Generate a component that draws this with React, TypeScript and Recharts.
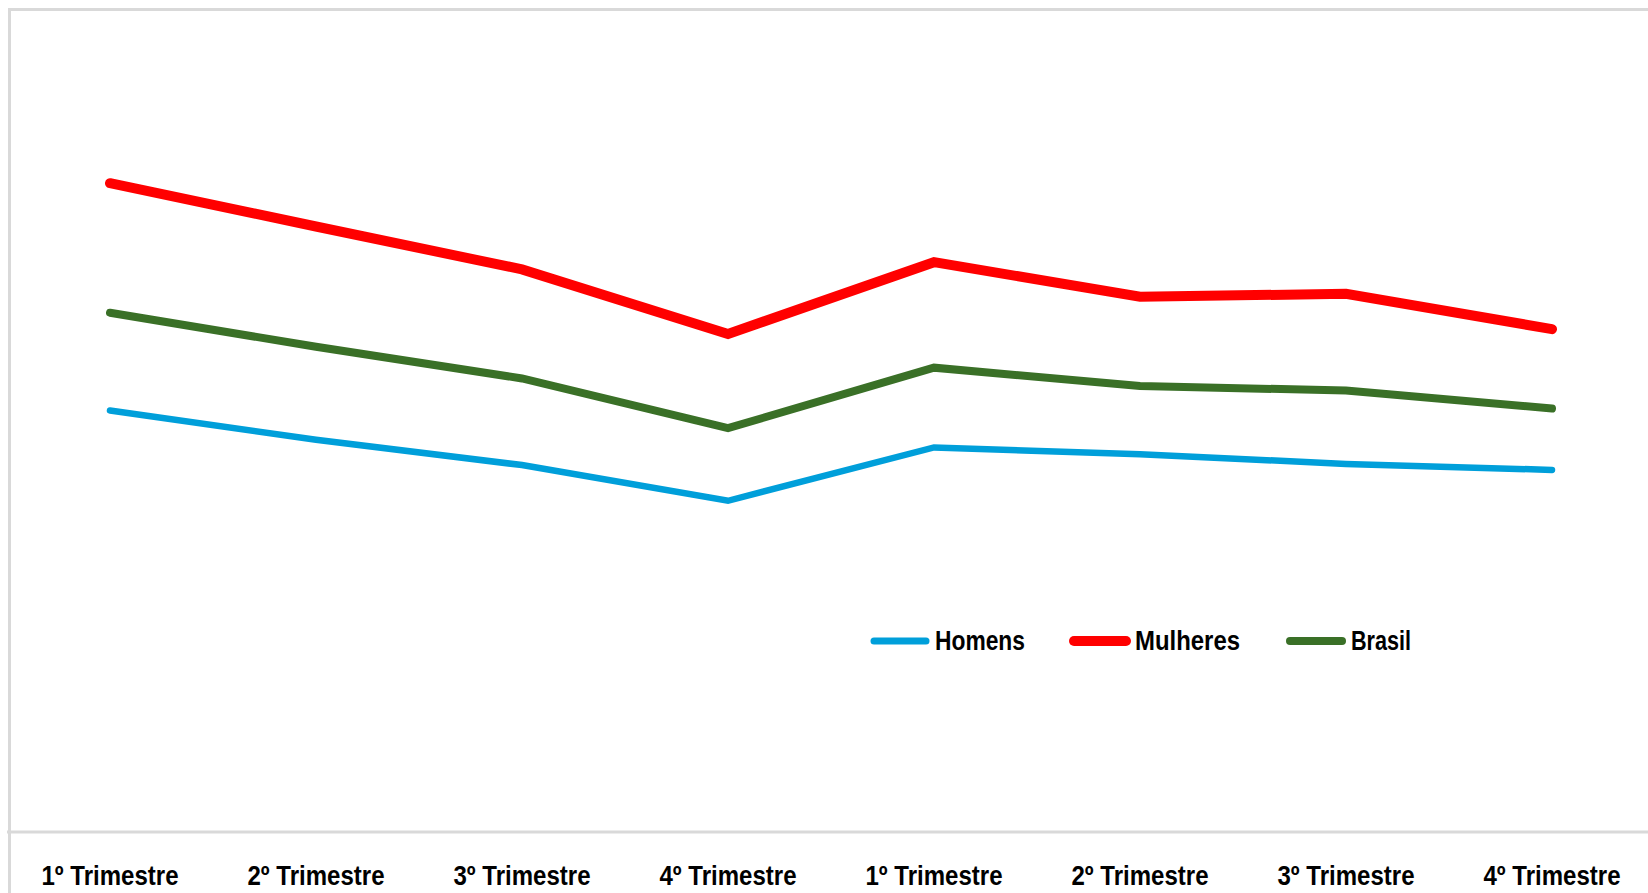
import { LineChart, Line, XAxis, YAxis } from 'recharts';

const quarters = [
  '1º Trimestre',
  '2º Trimestre',
  '3º Trimestre',
  '4º Trimestre',
  '1º Trimestre',
  '2º Trimestre',
  '3º Trimestre',
  '4º Trimestre',
];

const homens = [10.51, 9.78, 9.15, 8.26, 9.59, 9.42, 9.18, 9.03];
const mulheres = [16.18, 15.1, 14.03, 12.42, 14.21, 13.35, 13.42, 12.54];
const brasil = [12.95, 12.1, 11.31, 10.07, 11.58, 11.12, 11.01, 10.56];

const seriesNames = ['Homens', 'Mulheres', 'Brasil'];
const seriesColors = ['#009FDA', '#FF0000', '#3A7027'];

const data = quarters.map((q, i) => ({
  idx: i,
  quarter: q,
  homens: homens[i],
  mulheres: mulheres[i],
  brasil: brasil[i],
}));

const FONT = "'Liberation Sans', Arial, sans-serif";

function QuarterTick({ x, y, payload }: any) {
  return (
    <text
      x={x}
      y={y + 45}
      textAnchor="middle"
      fontFamily={FONT}
      fontWeight="bold"
      fontSize={27}
      fill="#000"
      textLength={137}
      lengthAdjust="spacingAndGlyphs"
    >
      {quarters[payload.value]}
    </text>
  );
}

// legend drawn by hand: thick line swatch + condensed bold label
function ChartLegend() {
  const items = [
    { name: seriesNames[0], color: seriesColors[0], w: 7, textW: 90, x: 0 },
    { name: seriesNames[1], color: seriesColors[1], w: 10, textW: 105, x: 200 },
    { name: seriesNames[2], color: seriesColors[2], w: 8, textW: 60, x: 416 },
  ];
  return (
    <svg width={560} height={46} style={{ position: 'absolute', left: 869, top: 618 }}>
      {items.map((it) => (
        <g key={it.name}>
          <line
            x1={it.x + 5}
            x2={it.x + 57}
            y1={23}
            y2={23}
            stroke={it.color}
            strokeWidth={it.w}
            strokeLinecap="round"
          />
          <text
            x={it.x + 66}
            y={32}
            fontFamily={FONT}
            fontWeight="bold"
            fontSize={27}
            fill="#000"
            textLength={it.textW}
            lengthAdjust="spacingAndGlyphs"
          >
            {it.name}
          </text>
        </g>
      ))}
    </svg>
  );
}

export default function App() {
  return (
    <div
      style={{
        position: 'relative',
        width: 1648,
        height: 893,
        overflow: 'hidden',
        background: '#fff',
      }}
    >
      <style>{'body{margin:0;overflow:hidden}'}</style>
      {/* chart frame: only top and left edges are visible, the rest is cropped */}
      <div
        style={{
          position: 'absolute',
          left: 8,
          top: 8,
          width: 1700,
          height: 900,
          borderTop: '3px solid #D9D9D9',
          borderLeft: '3px solid #D9D9D9',
        }}
      />
      <div style={{ position: 'absolute', left: 7, top: 8 }}>
        <LineChart
          width={1648}
          height={885}
          data={data}
          margin={{ top: 22, right: 0, left: 0, bottom: 0 }}
        >
          <XAxis
            dataKey="idx"
            type="category"
            scale="band"
            height={61}
            tickLine={false}
            axisLine={{ stroke: '#D9D9D9', strokeWidth: 3 }}
            tick={<QuarterTick />}
            interval={0}
          />
          <YAxis hide domain={[0, 20]} />
          <Line
            dataKey="homens"
            name="Homens"
            stroke={seriesColors[0]}
            strokeWidth={6.5}
            strokeLinecap="round"
            dot={false}
            isAnimationActive={false}
          />
          <Line
            dataKey="mulheres"
            name="Mulheres"
            stroke={seriesColors[1]}
            strokeWidth={10}
            strokeLinecap="round"
            dot={false}
            isAnimationActive={false}
          />
          <Line
            dataKey="brasil"
            name="Brasil"
            stroke={seriesColors[2]}
            strokeWidth={8}
            strokeLinecap="round"
            dot={false}
            isAnimationActive={false}
          />
        </LineChart>
      </div>
      <ChartLegend />
    </div>
  );
}
